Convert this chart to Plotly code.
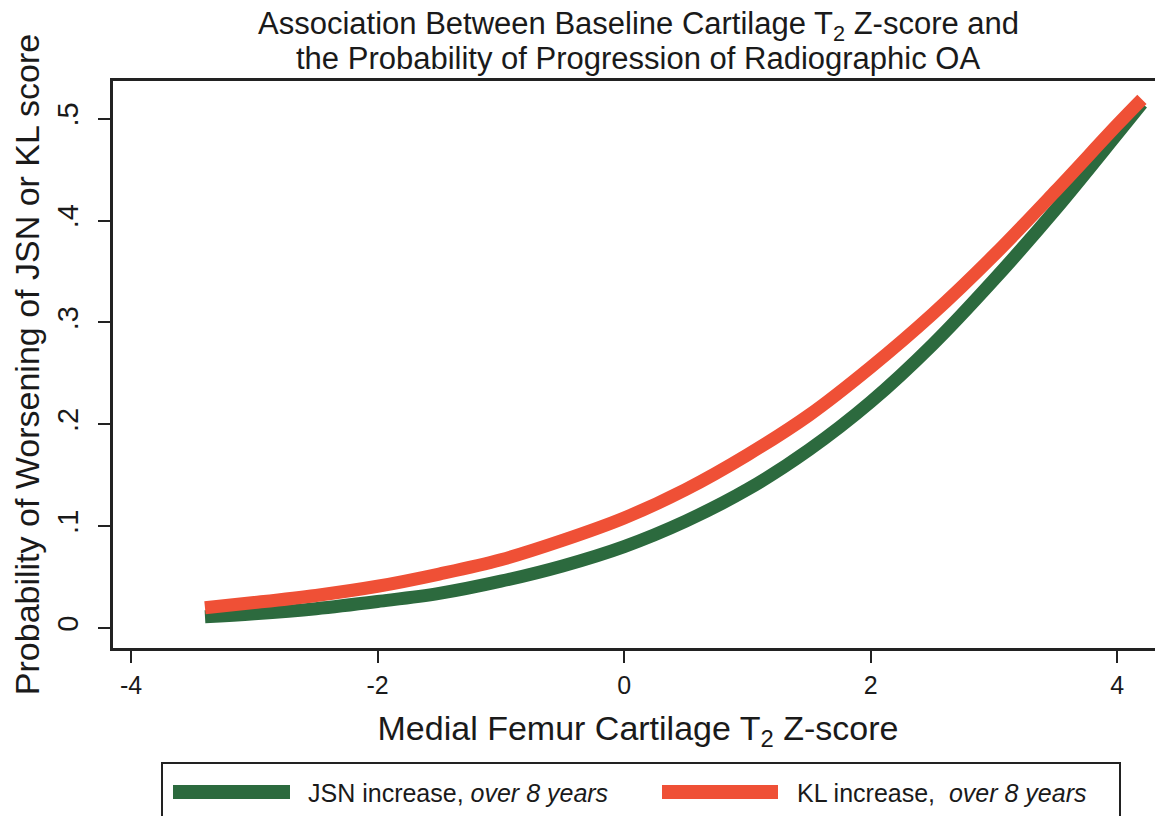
import plotly.graph_objects as go

# Data
z_score = [-3.4, -3.0, -2.5, -2.0, -1.5, -1.0, -0.5, 0.0, 0.5, 1.0, 1.5, 2.0, 2.5, 3.0, 3.5, 4.0, 4.2]
jsn_prob = [0.011, 0.014, 0.019, 0.026, 0.034, 0.046, 0.061, 0.080, 0.105, 0.136, 0.175, 0.222, 0.278, 0.342, 0.411, 0.485, 0.515]
kl_prob = [0.020, 0.025, 0.032, 0.041, 0.053, 0.067, 0.086, 0.108, 0.136, 0.170, 0.209, 0.256, 0.308, 0.366, 0.429, 0.494, 0.519]

x_tick_vals = [-4, -2, 0, 2, 4]
x_tick_text = ["-4", "-2", "0", "2", "4"]
y_tick_vals = [0, 0.1, 0.2, 0.3, 0.4, 0.5]
y_tick_text = ["0", ".1", ".2", ".3", ".4", ".5"]

series_names = ["JSN increase, <i>over 8 years</i>", "KL increase,  <i>over 8 years</i>"]
series_colors = ["#2c6a3e", "#ef5036"]

title_lines = ["Association Between Baseline Cartilage T<sub>2</sub> Z-score and",
               "the Probability of Progression of Radiographic OA"]

# The page body adds an 8px offset; layout numbers below compensate for it
OFF = 8
W, H = 1163, 816
L, R, T, B = 105, 8, 73, 176

fig = go.Figure()
fig.add_trace(go.Scatter(x=z_score, y=jsn_prob, mode="lines", name=series_names[0],
                         line=dict(color=series_colors[0], width=13, shape="spline"),
                         showlegend=False))
fig.add_trace(go.Scatter(x=z_score, y=kl_prob, mode="lines", name=series_names[1],
                         line=dict(color=series_colors[1], width=13, shape="spline"),
                         showlegend=False))

axis_color = "#222222"
text_color = "#1a1a1a"
regular = "Liberation Sans, Arial, Helvetica, sans-serif"

fig.update_layout(
    width=W, height=H,
    margin=dict(l=L, r=R, t=T, b=B, pad=0),
    paper_bgcolor="white", plot_bgcolor="white",
    font=dict(family=regular, color=text_color),
    xaxis=dict(range=[-4.146, 4.371], tickvals=x_tick_vals, ticktext=x_tick_text,
               automargin=False,
               showgrid=False, zeroline=False, showline=True, linecolor=axis_color, linewidth=3,
               mirror=True, ticks="outside", ticklen=12, tickwidth=2, tickcolor=axis_color,
               tickfont=dict(size=25, family=regular, color=text_color), ticklabelstandoff=1,
               title=dict(text="Medial Femur Cartilage T<sub>2</sub> Z-score",
                          font=dict(size=34, family=regular, color=text_color), standoff=19)),
    yaxis=dict(range=[-0.0196, 0.537], tickvals=y_tick_vals, ticktext=y_tick_text,
               automargin=False,
               showgrid=False, zeroline=False, showline=True, linecolor=axis_color, linewidth=3,
               ticks="outside", ticklen=12, tickwidth=2, tickcolor=axis_color, tickangle=-90,
               tickfont=dict(size=29, family=regular, color=text_color), ticklabelstandoff=8,
               title=dict(text="Probability of Worsening of JSN or KL score",
                          font=dict(size=34, family=regular, color=text_color), standoff=4)),
)

def px(xw):
    return (xw - OFF - L) / (W - L - R)

def py(yw):
    return (H - B - (yw - OFF)) / (H - T - B)

# Title as two lines (tight line spacing like the reference)
for txt, yc in zip(title_lines, [26, 59]):
    fig.add_annotation(xref="paper", yref="paper", x=px(638), y=py(yc), text=txt,
                       showarrow=False, xanchor="center", yanchor="middle",
                       font=dict(size=31, family=regular, color=text_color))

# Manual legend (box, swatches, labels)
fig.add_shape(type="rect", xref="paper", yref="paper",
              x0=px(162), x1=px(1120), y0=py(840), y1=py(763),
              line=dict(color=axis_color, width=2), fillcolor="rgba(0,0,0,0)")
sw = [(173, 290, 306), (662, 778, 795)]
for (a, b, t), name, col in zip(sw, series_names, series_colors):
    fig.add_shape(type="line", xref="paper", yref="paper",
                  x0=px(a), x1=px(b), y0=py(792), y1=py(792),
                  line=dict(color=col, width=14))
    fig.add_annotation(xref="paper", yref="paper", x=px(t), y=py(793), text=name,
                       showarrow=False, xanchor="left", yanchor="middle",
                       font=dict(size=25, family=regular, color=text_color))

fig.write_html("out.html")
